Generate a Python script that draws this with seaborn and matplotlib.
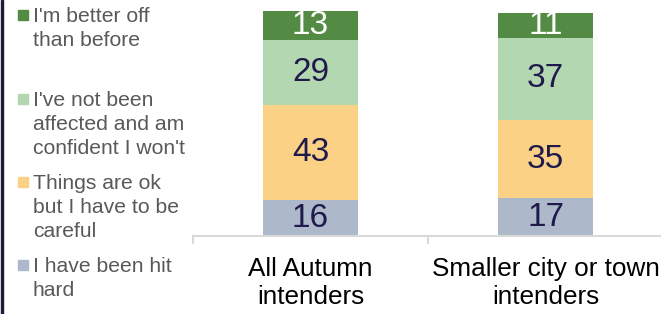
import matplotlib
matplotlib.use('Agg')
import matplotlib.pyplot as plt
import seaborn as sns
import pandas as pd
import numpy as np
from matplotlib.patches import Rectangle

groups = ['All Autumn\nintenders', 'Smaller city or town\nintenders']
hit_hard = [16, 17]
careful = [43, 35]
not_affected = [29, 37]
better_off = [13, 11]

series = [
    ('I have been hit\nhard', hit_hard, '#ADB9CA', '#1F1A4B'),
    ('Things are ok\nbut I have to be\ncareful', careful, '#FAD185', '#1F1A4B'),
    ("I've not been\naffected and am\nconfident I won't", not_affected, '#B3D7B0', '#1F1A4B'),
    ("I'm better off\nthan before", better_off, '#538B45', 'white'),
]

sns.set_theme(style='white')
plt.rcParams['font.family'] = ['Liberation Sans', 'DejaVu Sans']

fig = plt.figure(figsize=(6.61, 3.14), dpi=100)
ax = fig.add_axes([193 / 661, 78 / 314, 470 / 661, 225 / 314])

# stack by drawing cumulative totals, tallest first
cum = np.cumsum([s[1] for s in series], axis=0)
for i in range(len(series) - 1, -1, -1):
    df = pd.DataFrame({'group': groups, 'value': cum[i]})
    sns.barplot(data=df, x='group', y='value', color=series[i][2],
                saturation=1, width=0.405, ax=ax, linewidth=0)

for i, (name, vals, col, tcol) in enumerate(series):
    for j, v in enumerate(vals):
        ax.text(j, cum[i][j] - v / 2, str(v), ha='center', va='center',
                fontsize=24, color=tcol)

ax.set_xlim(-0.5, 1.5)
ax.set_ylim(0, 101)
ax.set_xlabel('')
ax.set_ylabel('')
ax.set_yticks([])
for s in ['top', 'right', 'left']:
    ax.spines[s].set_visible(False)
ax.spines['bottom'].set_color('#D9D9D9')
ax.spines['bottom'].set_linewidth(1.5)
ax.set_xticks([0, 1])
ax.set_xticklabels(groups, fontsize=18.8, color='black', linespacing=1.24)
ax.set_xticks([-0.5, 0.5, 1.5], minor=True)
ax.tick_params(axis='x', which='major', length=0, pad=15)
ax.tick_params(axis='x', which='minor', length=6, width=1.5, color='#D9D9D9',
               direction='out', bottom=True)

# legend drawn at the left
leg_y = [15, 99, 182, 265]
for k, (name, vals, col, tcol) in enumerate(reversed(series)):
    y = leg_y[k]
    fig.patches.append(Rectangle((18 / 661, 1 - (y + 5) / 314), 10 / 661, 10 / 314,
                                 transform=fig.transFigure, color=col))
    fig.text(33 / 661, 1 - (y - 8) / 314, name, ha='left', va='top',
             fontsize=15.2, color='#595959', linespacing=1.32)

fig.patches.append(Rectangle((1 / 661, 0), 2.5 / 661, 1, transform=fig.transFigure,
                             color='#1F1A3B'))

plt.savefig('out.png', dpi=100)
plt.close()
